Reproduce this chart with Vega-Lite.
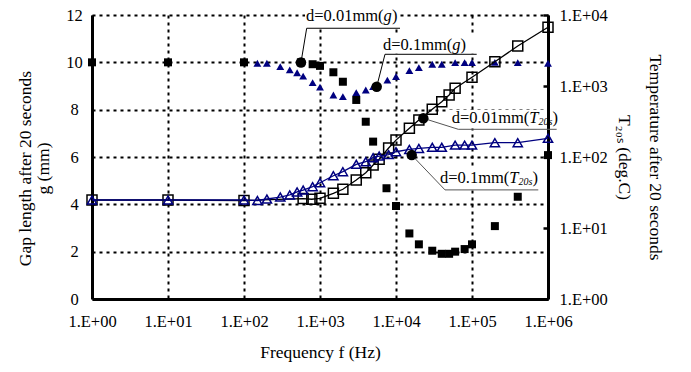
{
  "$schema": "https://vega.github.io/schema/vega-lite/v6.json",
  "width": 456,
  "height": 284,
  "autosize": {"type": "none"},
  "padding": {"left": 92, "top": 15, "right": 143, "bottom": 73},
  "background": "white",
  "config": {
    "view": {"stroke": null},
    "axis": {
      "labelFont": "Liberation Serif", "titleFont": "Liberation Serif",
      "labelFontSize": 16.5, "titleFontSize": 17.5,
      "labelColor": "black", "titleColor": "black", "titleFontWeight": "normal",
      "domainColor": "black", "domainWidth": 3,
      "gridColor": "black", "gridDash": [3, 4], "gridWidth": 2, "gridOpacity": 1,
      "ticks": false
    },
    "text": {"font": "Liberation Serif"}
  },
  "datasets": {
    "gap": [
      {"s": "sq", "f": 1, "g": 10}, {"s": "sq", "f": 10, "g": 10}, {"s": "sq", "f": 100, "g": 10},
      {"s": "sq", "f": 560, "g": 10}, {"s": "sq", "f": 800, "g": 9.92}, {"s": "sq", "f": 1000, "g": 9.85},
      {"s": "sq", "f": 1500, "g": 9.58}, {"s": "sq", "f": 2000, "g": 9.18}, {"s": "sq", "f": 3000, "g": 8.41},
      {"s": "sq", "f": 4000, "g": 7.49}, {"s": "sq", "f": 5000, "g": 6.65}, {"s": "sq", "f": 7500, "g": 4.68},
      {"s": "sq", "f": 10000, "g": 3.93}, {"s": "sq", "f": 15000, "g": 2.77}, {"s": "sq", "f": 20000, "g": 2.31},
      {"s": "sq", "f": 30000, "g": 2.04}, {"s": "sq", "f": 40000, "g": 1.91}, {"s": "sq", "f": 50000, "g": 1.91},
      {"s": "sq", "f": 60000, "g": 2.0}, {"s": "sq", "f": 80000, "g": 2.11}, {"s": "sq", "f": 100000, "g": 2.31},
      {"s": "sq", "f": 200000, "g": 3.08}, {"s": "sq", "f": 400000, "g": 4.32}, {"s": "sq", "f": 1000000, "g": 6.08},
      {"s": "tri", "f": 150, "g": 9.96}, {"s": "tri", "f": 200, "g": 9.96}, {"s": "tri", "f": 300, "g": 9.82},
      {"s": "tri", "f": 400, "g": 9.68}, {"s": "tri", "f": 500, "g": 9.56}, {"s": "tri", "f": 600, "g": 9.42},
      {"s": "tri", "f": 800, "g": 9.14}, {"s": "tri", "f": 1000, "g": 8.95}, {"s": "tri", "f": 1500, "g": 8.62},
      {"s": "tri", "f": 2000, "g": 8.55}, {"s": "tri", "f": 3000, "g": 8.72}, {"s": "tri", "f": 4000, "g": 8.83},
      {"s": "tri", "f": 5000, "g": 8.97}, {"s": "tri", "f": 7700, "g": 9.25}, {"s": "tri", "f": 10000, "g": 9.4},
      {"s": "tri", "f": 15000, "g": 9.65}, {"s": "tri", "f": 20000, "g": 9.78}, {"s": "tri", "f": 30000, "g": 9.92},
      {"s": "tri", "f": 40000, "g": 9.92}, {"s": "tri", "f": 60000, "g": 9.99}, {"s": "tri", "f": 80000, "g": 9.99},
      {"s": "tri", "f": 100000, "g": 9.99}, {"s": "tri", "f": 200000, "g": 10.0}, {"s": "tri", "f": 400000, "g": 9.99},
      {"s": "tri", "f": 1000000, "g": 9.96}
    ],
    "temp": [
      {"s": "sqT", "f": 1, "T": 24.8}, {"s": "sqT", "f": 10, "T": 24.8}, {"s": "sqT", "f": 100, "T": 24.4},
      {"s": "sqT", "f": 600, "T": 26.0}, {"s": "sqT", "f": 780, "T": 25.4}, {"s": "sqT", "f": 1000, "T": 26.2},
      {"s": "sqT", "f": 1500, "T": 30.8}, {"s": "sqT", "f": 2000, "T": 35.1}, {"s": "sqT", "f": 3000, "T": 47.4},
      {"s": "sqT", "f": 4000, "T": 60.1}, {"s": "sqT", "f": 5000, "T": 77.1}, {"s": "sqT", "f": 6000, "T": 92.9},
      {"s": "sqT", "f": 8000, "T": 134}, {"s": "sqT", "f": 10000, "T": 173}, {"s": "sqT", "f": 15000, "T": 254},
      {"s": "sqT", "f": 20000, "T": 332}, {"s": "sqT", "f": 30000, "T": 470}, {"s": "sqT", "f": 40000, "T": 601},
      {"s": "sqT", "f": 50000, "T": 746}, {"s": "sqT", "f": 60000, "T": 929}, {"s": "sqT", "f": 100000, "T": 1327},
      {"s": "sqT", "f": 200000, "T": 2198}, {"s": "sqT", "f": 400000, "T": 3656}, {"s": "sqT", "f": 1000000, "T": 6710},
      {"s": "triT", "f": 1, "T": 24.8}, {"s": "triT", "f": 10, "T": 24.8}, {"s": "triT", "f": 100, "T": 24.8},
      {"s": "triT", "f": 150, "T": 24.4}, {"s": "triT", "f": 200, "T": 25.6}, {"s": "triT", "f": 300, "T": 27.3},
      {"s": "triT", "f": 400, "T": 29.2}, {"s": "triT", "f": 500, "T": 32.2}, {"s": "triT", "f": 600, "T": 34.2},
      {"s": "triT", "f": 800, "T": 38.2}, {"s": "triT", "f": 1000, "T": 43.4}, {"s": "triT", "f": 1500, "T": 54.5},
      {"s": "triT", "f": 2000, "T": 62.2}, {"s": "triT", "f": 3000, "T": 78.9}, {"s": "triT", "f": 4000, "T": 85.8},
      {"s": "triT", "f": 5000, "T": 97.9}, {"s": "triT", "f": 6000, "T": 103}, {"s": "triT", "f": 8000, "T": 108},
      {"s": "triT", "f": 10000, "T": 118.6}, {"s": "triT", "f": 15000, "T": 128}, {"s": "triT", "f": 20000, "T": 132},
      {"s": "triT", "f": 30000, "T": 137}, {"s": "triT", "f": 40000, "T": 137}, {"s": "triT", "f": 60000, "T": 147},
      {"s": "triT", "f": 80000, "T": 147}, {"s": "triT", "f": 100000, "T": 147}, {"s": "triT", "f": 200000, "T": 159},
      {"s": "triT", "f": 400000, "T": 159}, {"s": "triT", "f": 1000000, "T": 183}
    ],
    "boxes": [
      {"id": "L1", "f": 635, "f2": 11290, "g": 12.3, "g2": 11.47},
      {"id": "L2", "f": 6350, "f2": 116400, "g": 11.11, "g2": 10.37},
      {"id": "L3", "f": 49800, "f2": 942000, "g": 7.99, "g2": 7.2},
      {"id": "L4", "f": 34600, "f2": 738000, "g": 5.62, "g2": 4.64}
    ],
    "leaders": [
      {"id": "L1", "o": 1, "f": 562, "g": 9.99}, {"id": "L1", "o": 2, "f": 668, "g": 11.44}, {"id": "L1", "o": 3, "f": 11290, "g": 11.44},
      {"id": "L2", "o": 1, "f": 5572, "g": 8.97}, {"id": "L2", "o": 2, "f": 7164, "g": 10.34}, {"id": "L2", "o": 3, "f": 115300, "g": 10.34},
      {"id": "L3", "o": 1, "f": 22880, "g": 7.635}, {"id": "L3", "o": 2, "f": 66070, "g": 7.17}, {"id": "L3", "o": 3, "f": 1300000, "g": 7.17},
      {"id": "L4", "o": 1, "f": 16100, "g": 6.08}, {"id": "L4", "o": 2, "f": 44140, "g": 4.61}, {"id": "L4", "o": 3, "f": 745000, "g": 4.61}
    ],
    "circles": [
      {"f": 562, "g": 9.99}, {"f": 5572, "g": 8.97}, {"f": 22880, "g": 7.635}, {"f": 16100, "g": 6.08}
    ],
    "labels": [
      {"k": "pre", "f": 654, "g": 11.96, "t": "d=0.01mm("}, {"k": "var", "f": 6870, "g": 11.96, "t": "g"}, {"k": "pre", "f": 8830, "g": 11.96, "t": ")"},
      {"k": "pre", "f": 6745, "g": 10.73, "t": "d=0.1mm("}, {"k": "var", "f": 55030, "g": 10.73, "t": "g"}, {"k": "pre", "f": 70790, "g": 10.73, "t": ")"},
      {"k": "pre", "f": 54060, "g": 7.635, "t": "d=0.01mm("}, {"k": "var", "f": 567600, "g": 7.635, "t": "T"}, {"k": "sub", "f": 749800, "g": 7.46, "t": "20s"}, {"k": "pre", "f": 1142800, "g": 7.635, "t": ")"},
      {"k": "pre", "f": 37930, "g": 5.113, "t": "d=0.1mm("}, {"k": "var", "f": 309500, "g": 5.113, "t": "T"}, {"k": "sub", "f": 409000, "g": 4.94, "t": "20s"}, {"k": "pre", "f": 623400, "g": 5.113, "t": ")"}
    ]
  },
  "encoding": {
    "x": {
      "field": "f", "type": "quantitative",
      "scale": {"type": "log", "domain": [1, 1000000], "nice": false},
      "axis": {
        "values": [1, 10, 100, 1000, 10000, 100000, 1000000],
        "labelExpr": "'1.E+' + format(round(log(datum.value)/LN10), '02d')",
        "title": "Frequency f (Hz)", "grid": true, "labelPadding": 14, "titlePadding": 14,
        "labelFlush": false, "labelOverlap": false
      }
    }
  },
  "layer": [
    {
      "encoding": {
        "y": {
          "field": "g", "type": "quantitative",
          "scale": {"domain": [0, 12], "nice": false, "zero": false},
          "axis": {
            "orient": "left", "values": [0, 2, 4, 6, 8, 10, 12], "grid": true,
            "title": ["Gap length after 20 seconds", "g (mm)"],
            "labelAlign": "center", "labelPadding": 18, "titleLineHeight": 18, "titlePadding": 13,
            "titleY": 153
          }
        }
      },
      "layer": [
        {
          "data": {"name": "boxes"},
          "mark": {"type": "rect", "color": "white", "opacity": 1},
          "encoding": {"x2": {"field": "f2"}, "y2": {"field": "g2"}}
        },
        {
          "data": {"name": "gap"}, "transform": [{"filter": "datum.s === 'sq'"}],
          "mark": {"type": "point", "shape": "square", "filled": true, "color": "black", "size": 64, "opacity": 1}
        },
        {
          "data": {"name": "gap"}, "transform": [{"filter": "datum.s === 'tri'"}],
          "mark": {"type": "point", "shape": "triangle-up", "filled": true, "color": "#000080", "size": 62, "opacity": 1}
        }
      ]
    },
    {
      "encoding": {
        "y": {
          "field": "T", "type": "quantitative",
          "scale": {"type": "log", "domain": [1, 10000], "nice": false},
          "axis": {
            "orient": "right", "values": [1, 10, 100, 1000, 10000], "grid": false,
            "labelExpr": "'1.E+' + format(round(log(datum.value)/LN10), '02d')",
            "title": ["Temperature after 20 seconds", "T₂₀ₛ (deg.C)"],
            "ticks": true, "tickSize": -5, "tickWidth": 2.5, "tickColor": "black",
            "titleLineHeight": 31, "labelPadding": 16, "titlePadding": 7
          }
        }
      },
      "layer": [
        {
          "data": {"name": "temp"}, "transform": [{"filter": "datum.s === 'sqT'"}],
          "mark": {"type": "line", "color": "black", "strokeWidth": 1.3}
        },
        {
          "data": {"name": "temp"}, "transform": [{"filter": "datum.s === 'sqT'"}],
          "mark": {"type": "point", "shape": "square", "filled": false, "color": "black", "size": 100, "strokeWidth": 1.5, "opacity": 1}
        },
        {
          "data": {"name": "temp"}, "transform": [{"filter": "datum.s === 'triT'"}],
          "mark": {"type": "line", "color": "#000080", "strokeWidth": 1.3}
        },
        {
          "data": {"name": "temp"}, "transform": [{"filter": "datum.s === 'triT'"}],
          "mark": {"type": "point", "shape": "triangle-up", "filled": false, "color": "#000080", "size": 85, "strokeWidth": 1.5, "opacity": 1}
        }
      ]
    },
    {
      "encoding": {
        "y": {"field": "g", "type": "quantitative", "scale": {"domain": [0, 12], "nice": false, "zero": false}, "axis": null}
      },
      "layer": [
        {
          "data": {"name": "leaders"}, "transform": [{"filter": "datum.id === 'L1' || datum.id === 'L2'"}],
          "mark": {"type": "line", "color": "black", "strokeWidth": 1},
          "encoding": {"detail": {"field": "id"}, "order": {"field": "o"}}
        },
        {
          "data": {"name": "leaders"}, "transform": [{"filter": "datum.id === 'L3' || datum.id === 'L4'"}],
          "mark": {"type": "line", "color": "#555555", "strokeWidth": 1},
          "encoding": {"detail": {"field": "id"}, "order": {"field": "o"}}
        },
        {
          "data": {"name": "circles"},
          "mark": {"type": "point", "shape": "circle", "filled": true, "color": "black", "size": 110, "opacity": 1}
        },
        {
          "data": {"name": "labels"}, "transform": [{"filter": "datum.k === 'pre'"}],
          "mark": {"type": "text", "align": "left", "baseline": "middle", "fontSize": 16.5, "color": "black"},
          "encoding": {"text": {"field": "t"}}
        },
        {
          "data": {"name": "labels"}, "transform": [{"filter": "datum.k === 'var'"}],
          "mark": {"type": "text", "align": "left", "baseline": "middle", "fontSize": 16.5, "fontStyle": "italic", "color": "black"},
          "encoding": {"text": {"field": "t"}}
        },
        {
          "data": {"name": "labels"}, "transform": [{"filter": "datum.k === 'sub'"}],
          "mark": {"type": "text", "align": "left", "baseline": "middle", "fontSize": 10, "fontStyle": "italic", "color": "black"},
          "encoding": {"text": {"field": "t"}}
        }
      ]
    }
  ],
  "resolve": {"scale": {"y": "independent"}}
}
